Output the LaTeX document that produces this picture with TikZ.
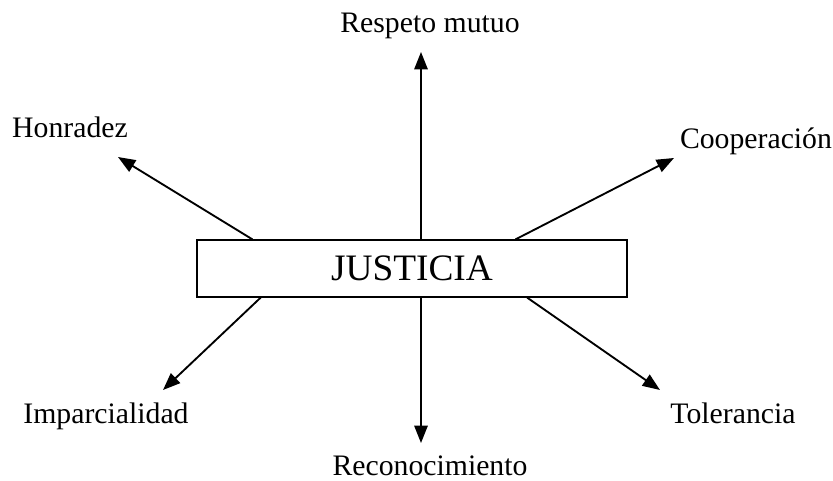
\documentclass[tikz,border=0pt]{standalone}
\usepackage{fontspec}
\setmainfont{Liberation Serif}
\usetikzlibrary{arrows.meta,calc}

\begin{document}
\begin{tikzpicture}[x=0.75pt,y=-0.75pt,lbl/.style={font=\fontsize{22.3}{26}\selectfont,anchor=base,inner sep=0pt},flecha/.style={line width=1.4pt,-{Triangle[length=13pt,width=10pt]}}]
\useasboundingbox (0,0) rectangle (833,481);
\node[draw,line width=0.9pt,minimum width=322.5pt,minimum height=42.75pt,inner sep=0pt,font=\fontsize{28}{32}\selectfont](just) at (412,268.5) {JUSTICIA};
% labels
\foreach \x/\y/\t/\n in %
{430/33/Respeto mutuo/n0,70/138/Honradez/n1,756/149/Cooperación/n2,
 106/423/Imparcialidad/n3,733/423/Tolerancia/n4,430/475/Reconocimiento/n5} {
   \node[lbl](\n) at (\x,\y) {\t};
}
% arrow tips
\coordinate (t0) at (421,52);
\coordinate (t1) at (118,157);
\coordinate (t2) at (674,158);
\coordinate (t3) at (163,390);
\coordinate (t4) at (660,390);
\coordinate (t5) at (421,443);
\draw[flecha] ($(just.north west)!0.521!(just.north east)$) -- (t0);
\draw[flecha] ($(just.north west)!0.13!(just.north east)$) -- (t1);
\draw[flecha] ($(just.north west)!0.74!(just.north east)$) -- (t2);
\draw[flecha] ($(just.south west)!0.149!(just.south east)$) -- (t3);
\draw[flecha] ($(just.south west)!0.767!(just.south east)$) -- (t4);
\draw[flecha] ($(just.south west)!0.521!(just.south east)$) -- (t5);
\end{tikzpicture}
\end{document}
